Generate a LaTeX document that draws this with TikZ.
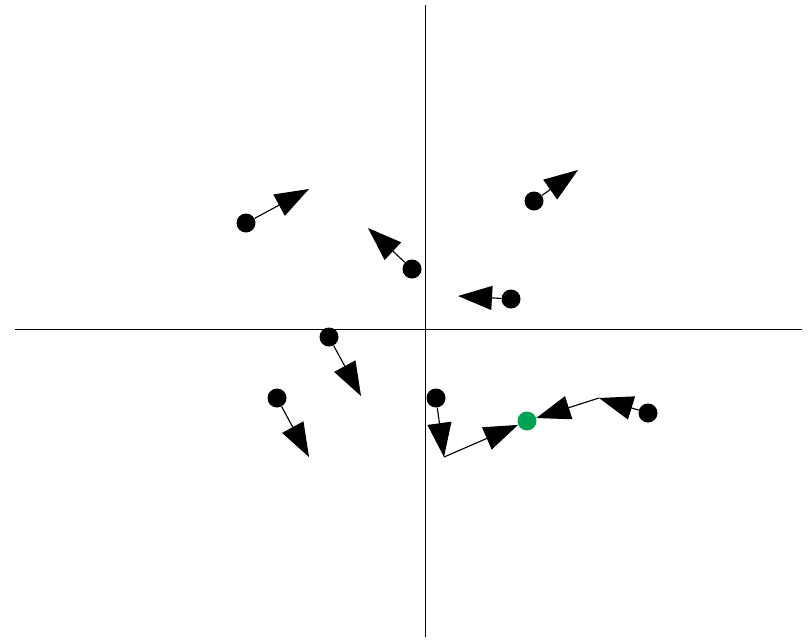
\documentclass[tikz,border=0pt]{standalone}
\usepackage{tikz}
\usetikzlibrary{arrows.meta}
\definecolor{dotgreen}{RGB}{0,163,84}

\begin{document}
\begin{tikzpicture}[x=0.025cm, y=-0.025cm,
    dot/.style={circle, fill=black, inner sep=0pt, minimum size=0.475cm},
    vec/.style={line width=0.8pt, -{Triangle[length=0.85cm, width=0.6cm]}}]
    \useasboundingbox (0,0) rectangle (808,640);
    % axes
    \draw[line width=0.6pt] (15,329) -- (802,329);
    \draw[line width=0.6pt] (425,5) -- (425,637);
    % points
    \node[dot] (q1) at (246,223) {};
    \node[dot] (q2) at (412,269) {};
    \node[dot] (q3) at (511,299) {};
    \node[dot] (q4) at (534,201) {};
    \node[dot] (q5) at (329,337) {};
    \node[dot] (q6) at (277,398) {};
    \node[dot] (q7) at (436,398) {};
    \node[dot] (q8) at (648,413) {};
    \node[dot, fill=dotgreen] (res) at (527,421) {};
    % arrow ends
    \coordinate (t1) at (309,189);
    \coordinate (t2) at (368,228);
    \coordinate (t3) at (458,296);
    \coordinate (t4) at (578,170);
    \coordinate (t5) at (361,396);
    \coordinate (t6) at (309,457);
    \coordinate (m7) at (444,457);
    \coordinate (m8) at (599,398);
    \draw[vec] (q1) -- (t1);
    \draw[vec] (q2) -- (t2);
    \draw[vec] (q3) -- (t3);
    \draw[vec] (q4) -- (t4);
    \draw[vec] (q5) -- (t5);
    \draw[vec] (q6) -- (t6);
    \draw[vec] (q7) -- (m7);
    \draw[vec] (m7) -- (res);
    \draw[vec] (q8) -- (m8);
    \draw[vec] (m8) -- (res);
\end{tikzpicture}
\end{document}
